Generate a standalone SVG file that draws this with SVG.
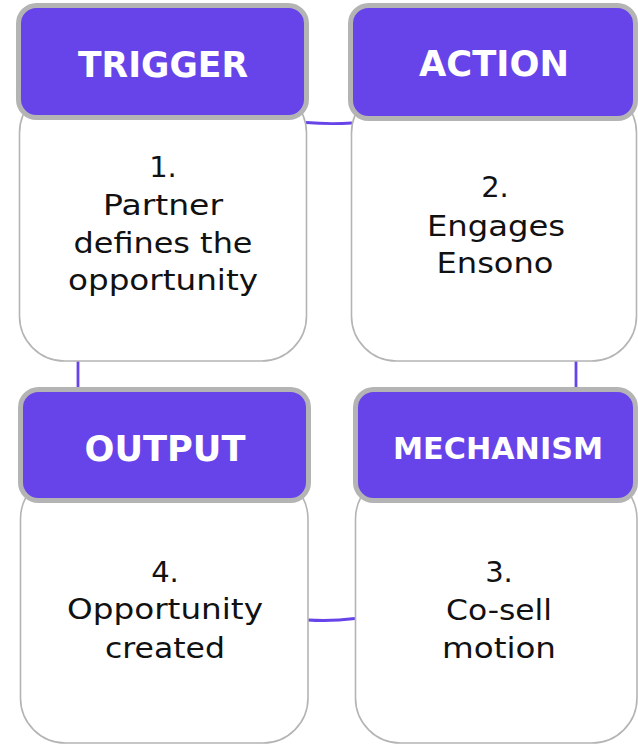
<svg xmlns="http://www.w3.org/2000/svg" width="638" height="744" viewBox="0 0 638 744">
  <style>
    .body { fill: #ffffff; stroke: #b4b4b4; stroke-width: 1.6; }
    .head { fill: #6744e9; stroke: #b4b4b4; stroke-width: 5; }
    .htxt { font-family: "DejaVu Sans", "Liberation Sans", sans-serif; font-weight: 700; fill: #ffffff; text-anchor: middle; }
    .btxt { font-family: "DejaVu Sans", "Liberation Sans", sans-serif; font-size: 29px; fill: #111111; text-anchor: middle; }
    .link { fill: none; stroke: #6744e9; stroke-width: 2.8; stroke-linecap: butt; }
  </style>
  <rect width="638" height="744" fill="#ffffff"/>

  <!-- connectors between the four steps -->
  <g id="connectors">
    <path class="link" d="M306,122.5 Q329,124.5 352,123"/>
    <path class="link" d="M576,361 L576,389"/>
    <path class="link" d="M308,620 Q331,621.5 355,618.5"/>
    <path class="link" d="M78,361 L78,389"/>
  </g>

  <!-- step 1 -->
  <g id="trigger">
    <rect class="body" x="19.5" y="88" width="287" height="273" rx="45"/>
    <rect class="head" x="18.5" y="5.5" width="288" height="112" rx="18"/>
    <text class="htxt" x="163" y="77" font-size="36" textLength="170" lengthAdjust="spacingAndGlyphs">TRIGGER</text>
    <text class="btxt" x="163" y="177">1.</text>
    <text class="btxt" x="163" y="215" textLength="120" lengthAdjust="spacingAndGlyphs">Partner</text>
    <text class="btxt" x="163" y="253" textLength="179" lengthAdjust="spacingAndGlyphs">defines the</text>
    <text class="btxt" x="163" y="290" textLength="190" lengthAdjust="spacingAndGlyphs">opportunity</text>
  </g>

  <!-- step 2 -->
  <g id="action">
    <rect class="body" x="351.5" y="88" width="285" height="273" rx="45"/>
    <rect class="head" x="350.5" y="5.5" width="285" height="113" rx="18"/>
    <text class="htxt" x="494" y="76" font-size="36" textLength="150" lengthAdjust="spacingAndGlyphs">ACTION</text>
    <text class="btxt" x="495" y="197">2.</text>
    <text class="btxt" x="496" y="236" textLength="138" lengthAdjust="spacingAndGlyphs">Engages</text>
    <text class="btxt" x="495" y="273" textLength="117" lengthAdjust="spacingAndGlyphs">Ensono</text>
  </g>

  <!-- step 3 -->
  <g id="mechanism">
    <rect class="body" x="355.5" y="474" width="281.5" height="269" rx="45"/>
    <rect class="head" x="355.5" y="389.5" width="280" height="111" rx="18"/>
    <text class="htxt" x="498" y="459" font-size="31" textLength="210" lengthAdjust="spacingAndGlyphs">MECHANISM</text>
    <text class="btxt" x="499" y="582">3.</text>
    <text class="btxt" x="499" y="620" textLength="106" lengthAdjust="spacingAndGlyphs">Co-sell</text>
    <text class="btxt" x="499" y="658" textLength="114" lengthAdjust="spacingAndGlyphs">motion</text>
  </g>

  <!-- step 4 -->
  <g id="output">
    <rect class="body" x="20.5" y="474" width="287.5" height="269" rx="45"/>
    <rect class="head" x="20.5" y="389.5" width="288" height="111" rx="18"/>
    <text class="htxt" x="165" y="461" font-size="35" textLength="161" lengthAdjust="spacingAndGlyphs">OUTPUT</text>
    <text class="btxt" x="165" y="582">4.</text>
    <text class="btxt" x="165" y="619" textLength="196" lengthAdjust="spacingAndGlyphs">Opportunity</text>
    <text class="btxt" x="165" y="658" textLength="120" lengthAdjust="spacingAndGlyphs">created</text>
  </g>
</svg>
